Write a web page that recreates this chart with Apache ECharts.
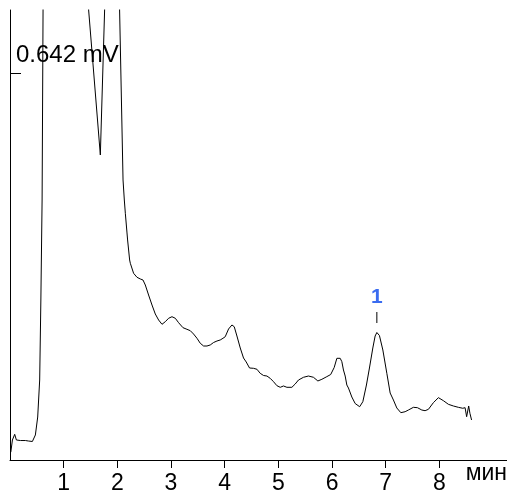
<!DOCTYPE html>
<html>
<head>
<meta charset="utf-8">
<script src="https://cdn.jsdelivr.net/npm/echarts@6/dist/echarts.min.js"></script>
<style>
html,body{margin:0;padding:0;background:#fff;}
#chart{width:507px;height:490px;}
</style>
</head>
<body>
<div id="chart"></div>
<script>
// Retention time, minutes
var times = [0.015,0.045,0.0875,0.119,0.194,0.287,0.343,0.380,0.417,0.473,0.516,0.553,0.575,0.598,0.616,
  0.70,1.00,1.35,1.465,1.683,1.763,1.85,1.95,2.042,
  2.106,2.130,2.149,2.180,2.191,2.229,2.242,2.303,2.366,2.428,2.478,2.521,2.582,2.646,2.707,2.769,2.832,2.893,2.955,3.018,3.080,3.141,3.223,3.297,3.359,3.420,3.484,3.545,3.607,3.670,3.731,3.793,3.856,3.917,3.968,4.010,4.072,4.135,4.178,4.228,4.290,4.351,4.401,4.463,4.537,4.601,4.662,4.724,4.787,4.848,4.910,4.973,5.035,5.096,5.159,5.252,5.314,5.375,5.468,5.561,5.654,5.736,5.811,5.891,5.975,6.040,6.090,6.124,6.152,6.183,6.213,6.245,6.276,6.306,6.369,6.431,6.468,6.515,6.574,6.641,6.697,6.760,6.803,6.835,6.883,6.947,7.021,7.083,7.144,7.207,7.282,7.362,7.423,7.516,7.591,7.673,7.734,7.796,7.888,7.982,8.075,8.168,8.261,8.354,8.436,8.479,8.508,8.546,8.569,8.600];
// Detector signal, mV
var signal = [0.013,0.0332,0.0426,0.0332,0.0323,0.0323,0.0315,0.0294,0.0307,0.0415,0.0713,0.1327,0.2654,0.4313,0.7465,
  2.2,3.4,1.8,0.7465,0.506,0.7465,1.6,1.5,0.7465,
  0.4645,0.4313,0.4093,0.3766,0.365,0.3318,0.3263,0.3097,0.3031,0.3003,0.2986,0.2903,0.2737,0.2571,0.2422,0.2322,0.2251,0.2294,0.2351,0.2377,0.2351,0.2278,0.2195,0.2168,0.2145,0.2090,0.2019,0.1936,0.1891,0.1891,0.1908,0.1949,0.1974,0.1991,0.2019,0.2045,0.2173,0.2240,0.2211,0.2057,0.1858,0.1692,0.1626,0.1526,0.1521,0.1505,0.1438,0.1402,0.1393,0.1355,0.1299,0.1233,0.1206,0.1228,0.1206,0.1206,0.1261,0.1327,0.1372,0.1393,0.1372,0.1311,0.1339,0.1377,0.1418,0.1534,0.1687,0.1717,0.1687,0.1631,0.1493,0.1393,0.1244,0.1194,0.1045,0.0937,0.0904,0.0884,0.0967,0.1244,0.1526,0.1858,0.2057,0.2115,0.2065,0.1825,0.1438,0.1111,0.0995,0.0863,0.0785,0.0801,0.0829,0.0874,0.0868,0.0829,0.0818,0.0841,0.0951,0.1034,0.0984,0.0924,0.0896,0.0874,0.0858,0.0868,0.0718,0.0896,0.0775,0.0664];
var xTicks = [1,2,3,4,5,6,7,8];
var yTicks = [0.642];
var peakTimes = [6.835];
var peakValues = [0.2115];
var peakLabels = ['1'];

var chart = echarts.init(document.getElementById('chart'), null, {renderer:'canvas'});
var lineData = times.map(function(t,i){return [t, signal[i]];});
var font = 'Arial, "Liberation Sans", sans-serif';
chart.setOption({
  animation:false,
  backgroundColor:'#fff',
  grid:{left:10,right:0,top:10,bottom:30,containLabel:false,outerBoundsMode:'none'},
  xAxis:{
    type:'value', min:0, max:9.26,
    name:'мин', nameLocation:'end', nameGap:0,
    nameTextStyle:{color:'#000',fontSize:23,fontFamily:font,align:'right',verticalAlign:'top',padding:[2,0,0,0]},
    axisLine:{show:true,onZero:false,lineStyle:{color:'#000',width:1}},
    axisTick:{show:true,length:8,customValues:xTicks,lineStyle:{color:'#000'}},
    axisLabel:{show:true,customValues:xTicks,color:'#000',fontSize:23,fontFamily:font,margin:12},
    splitLine:{show:false}
  },
  yAxis:{
    type:'value', min:0, max:0.7465,
    axisLine:{show:true,onZero:false,lineStyle:{color:'#000',width:1}},
    axisTick:{show:true,inside:true,length:11,customValues:yTicks,lineStyle:{color:'#000'}},
    axisLabel:{show:true,inside:true,customValues:yTicks,color:'#000',fontSize:24,fontFamily:font,
      margin:6,align:'left',verticalAlign:'bottom',padding:[0,0,6,0],
      formatter:function(v){return v.toFixed(3)+' mV';}},
    splitLine:{show:false}
  },
  series:[{
    type:'line',
    data:lineData,
    showSymbol:false,
    symbol:'none',
    clip:true,
    lineStyle:{color:'#000',width:1},
    markPoint:{
      symbol:'rect',
      symbolSize:[1,11],
      symbolOffset:[0,-15],
      itemStyle:{color:'#000'},
      label:{show:true,position:'top',distance:4,color:'#3a6cf0',fontSize:21,fontWeight:'bold',fontFamily:font,
        formatter:function(p){return p.name;}},
      data:peakTimes.map(function(t,i){return {name:peakLabels[i],coord:[t,peakValues[i]]};})
    }
  }]
});
</script>
</body>
</html>
